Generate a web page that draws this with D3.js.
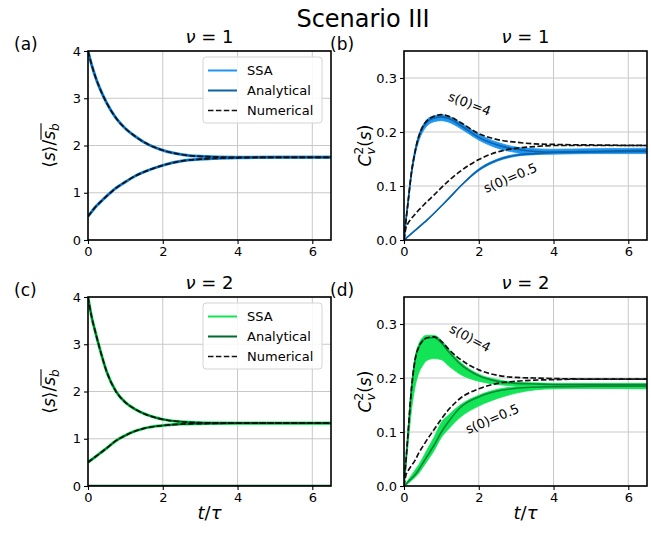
<!DOCTYPE html>
<html>
<head>
<meta charset="utf-8">
<script src="https://cdn.jsdelivr.net/npm/d3@7"></script>
<style>
  body { margin: 0; background: #fff; }
  svg { font-family: "DejaVu Sans", sans-serif; }
</style>
</head>
<body>
<svg id="fig" width="651" height="533"></svg>
<script>
// time grids
const tMean = [0, 0.1, 0.2, 0.3, 0.5, 0.75, 1, 1.25, 1.5, 2, 2.5, 3, 4, 5, 6.5];
const tCv = [0, 0.05, 0.1, 0.2, 0.3, 0.4, 0.5, 0.6, 0.8, 1.0, 1.2, 1.5, 2.0, 2.5, 3.0, 3.5, 4.0, 5.0, 6.5];

// mean size, nu = 1
const meanHi1 = [4.0, 3.7, 3.45, 3.24, 2.9, 2.58, 2.36, 2.2, 2.07, 1.9, 1.81, 1.77, 1.75, 1.75, 1.75];
const meanLo1 = [0.5, 0.6, 0.7, 0.78, 0.93, 1.1, 1.23, 1.35, 1.44, 1.58, 1.67, 1.71, 1.74, 1.75, 1.75];
// mean size, nu = 2
const meanHi2 = [4.0, 3.57, 3.25, 2.95, 2.42, 2.0, 1.77, 1.63, 1.53, 1.41, 1.36, 1.34, 1.33, 1.33, 1.33];
const meanLo2 = [0.5, 0.56, 0.62, 0.68, 0.8, 0.96, 1.07, 1.16, 1.22, 1.28, 1.31, 1.32, 1.33, 1.33, 1.33];

// CV^2, nu = 1
const num4_1   = [0, 0.035, 0.065, 0.125, 0.165, 0.193, 0.21, 0.22, 0.229, 0.232, 0.229, 0.218, 0.197, 0.186, 0.181, 0.178, 0.177, 0.176, 0.175];
const ana4_1   = [0, 0.035, 0.065, 0.125, 0.165, 0.192, 0.208, 0.218, 0.226, 0.228, 0.225, 0.213, 0.19, 0.176, 0.168, 0.164, 0.163, 0.164, 0.166];
const ssa4_1lo = [0, 0.03, 0.06, 0.118, 0.158, 0.184, 0.2, 0.21, 0.219, 0.221, 0.218, 0.207, 0.185, 0.17, 0.162, 0.159, 0.159, 0.16, 0.16];
const ssa4_1hi = [0, 0.038, 0.07, 0.13, 0.17, 0.196, 0.212, 0.222, 0.23, 0.232, 0.229, 0.218, 0.196, 0.181, 0.172, 0.169, 0.168, 0.169, 0.17];
const num05_1   = [0, 0.022, 0.03, 0.04, 0.048, 0.056, 0.063, 0.07, 0.083, 0.097, 0.11, 0.127, 0.149, 0.163, 0.17, 0.173, 0.175, 0.175, 0.175];
const ana05_1   = [0, 0.003, 0.006, 0.012, 0.018, 0.024, 0.03, 0.036, 0.049, 0.063, 0.077, 0.099, 0.13, 0.148, 0.157, 0.16, 0.162, 0.163, 0.164];
const ssa05_1lo = [0, 0.002, 0.005, 0.011, 0.017, 0.023, 0.029, 0.035, 0.048, 0.062, 0.076, 0.098, 0.128, 0.146, 0.155, 0.158, 0.16, 0.161, 0.162];
const ssa05_1hi = [0, 0.004, 0.007, 0.013, 0.019, 0.025, 0.031, 0.037, 0.05, 0.064, 0.078, 0.1, 0.132, 0.15, 0.159, 0.162, 0.164, 0.165, 0.166];

// CV^2, nu = 2
const num4_2   = [0, 0.045, 0.09, 0.18, 0.235, 0.258, 0.269, 0.274, 0.276, 0.268, 0.253, 0.235, 0.215, 0.205, 0.201, 0.2, 0.199, 0.198, 0.198];
const ana4_2   = [0, 0.045, 0.09, 0.18, 0.235, 0.258, 0.269, 0.274, 0.275, 0.265, 0.248, 0.226, 0.204, 0.194, 0.19, 0.189, 0.188, 0.188, 0.188];
const ssa4_2lo = [0, 0.035, 0.07, 0.14, 0.185, 0.21, 0.223, 0.232, 0.236, 0.234, 0.222, 0.207, 0.194, 0.188, 0.185, 0.183, 0.182, 0.181, 0.18];
const ssa4_2hi = [0, 0.05, 0.095, 0.186, 0.24, 0.264, 0.275, 0.279, 0.279, 0.27, 0.253, 0.23, 0.207, 0.197, 0.192, 0.191, 0.19, 0.19, 0.19];
const num05_2   = [0, 0.02, 0.027, 0.038, 0.048, 0.062, 0.073, 0.084, 0.104, 0.124, 0.142, 0.162, 0.18, 0.19, 0.194, 0.196, 0.197, 0.198, 0.198];
const ana05_2   = [0, 0.003, 0.007, 0.014, 0.021, 0.031, 0.042, 0.053, 0.075, 0.1, 0.12, 0.145, 0.165, 0.176, 0.181, 0.183, 0.184, 0.185, 0.185];
const ssa05_2lo = [0, 0.001, 0.004, 0.01, 0.016, 0.024, 0.034, 0.044, 0.065, 0.09, 0.106, 0.127, 0.148, 0.162, 0.172, 0.178, 0.18, 0.181, 0.181];
const ssa05_2hi = [0, 0.005, 0.01, 0.02, 0.03, 0.04, 0.052, 0.065, 0.09, 0.118, 0.132, 0.15, 0.168, 0.179, 0.184, 0.186, 0.187, 0.187, 0.187];

// tick values
const xTicks = [0, 2, 4, 6];
const meanTicks = [0, 1, 2, 3, 4];
const cvTicks = [0, 0.1, 0.2, 0.3];
const legendLabels = ["SSA", "Analytical", "Numerical"];

const blue = { ssa: "#1f95f2", ana: "#0e62a8" };
const green = { ssa: "#12e456", ana: "#00692c" };

const svg = d3.select("#fig");
const zip = (ts, vs) => ts.map((t, i) => [t, vs[i]]);

svg.append("text").attr("x", 363).attr("y", 27).attr("text-anchor", "middle")
  .attr("font-size", 24).text("Scenario III");

function panel(o) {
  const x = d3.scaleLinear().domain([0, 6.5]).range([o.left, o.left + 243]);
  const y = d3.scaleLinear().domain(o.ydom).range([o.top + 189, o.top]);
  const g = svg.append("g");
  const id = "clip" + o.tag.replace(/\W/g, "");
  svg.append("clipPath").attr("id", id).append("rect")
    .attr("x", x(0)).attr("y", y(o.ydom[1])).attr("width", x(6.5) - x(0)).attr("height", y(o.ydom[0]) - y(o.ydom[1]));

  // grid
  g.selectAll(".gx").data(xTicks).join("line")
    .attr("x1", d => x(d)).attr("x2", d => x(d)).attr("y1", y.range()[0]).attr("y2", y.range()[1])
    .attr("stroke", "#c8c8c8").attr("stroke-width", 1);
  g.selectAll(".gy").data(o.yticks).join("line")
    .attr("y1", d => y(d)).attr("y2", d => y(d)).attr("x1", x.range()[0]).attr("x2", x.range()[1])
    .attr("stroke", "#c8c8c8").attr("stroke-width", 1);

  const plot = g.append("g").attr("clip-path", `url(#${id})`);
  const line = d3.line().x(d => x(d[0])).y(d => y(d[1])).curve(d3.curveMonotoneX);
  const area = d3.area().x(d => x(d[0])).y0(d => y(d[1])).y1(d => y(d[2])).curve(d3.curveMonotoneX);

  (o.bands || []).forEach(b => {
    plot.append("path").datum(o.t.map((t, i) => [t, b[0][i], b[1][i]]))
      .attr("d", area).attr("fill", o.col.ssa).attr("stroke", o.col.ssa).attr("stroke-width", 0.8);
  });
  (o.ssa || []).forEach(s => {
    plot.append("path").attr("d", line(zip(o.t, s))).attr("fill", "none")
      .attr("stroke", o.col.ssa).attr("stroke-width", 3);
  });
  (o.ana || []).forEach(s => {
    plot.append("path").attr("d", line(zip(o.t, s))).attr("fill", "none")
      .attr("stroke", o.col.ana).attr("stroke-width", 1.6).attr("opacity", o.anaOpacity || 1);
  });
  (o.num || []).forEach(s => {
    plot.append("path").attr("d", line(zip(o.t, s))).attr("fill", "none")
      .attr("stroke", "#111").attr("stroke-width", 1.7).attr("stroke-dasharray", "5.5,2.4");
  });
  if (o.zeroLine) {
    plot.append("line").attr("x1", x(0)).attr("x2", x(6.5)).attr("y1", y(0)).attr("y2", y(0))
      .attr("stroke", o.col.ana).attr("stroke-width", 2.5);
  }

  // axes
  const ax = g.append("g").attr("transform", `translate(0,${y.range()[0]})`)
    .call(d3.axisBottom(x).tickValues(xTicks).tickSize(4).tickPadding(3).tickFormat(d3.format("d")));
  const ay = g.append("g").attr("transform", `translate(${x.range()[0]},0)`)
    .call(d3.axisLeft(y).tickValues(o.yticks).tickSize(4).tickPadding(3).tickFormat(d3.format(o.yfmt)));
  [ax, ay].forEach(a => {
    a.select(".domain").remove();
    a.selectAll("line").attr("stroke", "#000").attr("stroke-width", 1.1);
    a.selectAll("text").attr("font-size", 13).attr("fill", "#000").attr("font-family", "DejaVu Sans");
  });
  g.append("rect").attr("x", x.range()[0]).attr("y", y.range()[1])
    .attr("width", x.range()[1] - x.range()[0]).attr("height", y.range()[0] - y.range()[1])
    .attr("fill", "none").attr("stroke", "#000").attr("stroke-width", 1.6);

  // titles
  const tt = svg.append("text").attr("x", (x.range()[0] + x.range()[1]) / 2).attr("y", o.top - 8)
    .attr("text-anchor", "middle").attr("font-size", 18);
  tt.append("tspan").attr("font-style", "italic").text("ν");
  tt.append("tspan").text(" = " + o.nu);
  svg.append("text").attr("x", o.left - 74).attr("y", o.top - 1).attr("font-size", 17).text(o.tag);

  if (o.xlabel) {
    const xl = svg.append("text").attr("x", (x.range()[0] + x.range()[1]) / 2).attr("y", o.top + 222)
      .attr("text-anchor", "middle").attr("font-size", 18);
    xl.append("tspan").attr("font-style", "italic").text("t");
    xl.append("tspan").text("/");
    xl.append("tspan").attr("font-style", "italic").text("τ");
  }

  const cy = o.top + 94.5;
  const yl = svg.append("g").attr("transform", `translate(${o.left - 33},${cy}) rotate(-90)`);
  if (o.kind === "mean") {
    const t = yl.append("text").attr("text-anchor", "middle").attr("font-size", 17);
    t.append("tspan").text("⟨");
    t.append("tspan").attr("font-style", "italic").text("s");
    t.append("tspan").text("⟩/");
    t.append("tspan").attr("font-style", "italic").text("s");
    t.append("tspan").attr("font-style", "italic").attr("font-size", 12).attr("dy", 4).text("b");
    const node = t.node();
    const e1 = node.getExtentOfChar(4), e2 = node.getExtentOfChar(5);
    yl.append("line").attr("x1", e1.x).attr("x2", e2.x + e2.width)
      .attr("y1", e1.y + 2).attr("y2", e1.y + 2).attr("stroke", "#000").attr("stroke-width", 1.1);
  } else {
    const t = yl.append("text").attr("text-anchor", "middle").attr("font-size", 17);
    t.append("tspan").attr("font-style", "italic").text("C");
    t.append("tspan").attr("font-style", "italic").attr("font-size", 12).attr("dy", 4).text("v");
    t.append("tspan").attr("font-size", 12).attr("dx", -7).attr("dy", -12).text("2");
    t.append("tspan").attr("dy", 8).text("(");
    t.append("tspan").attr("font-style", "italic").text("s");
    t.append("tspan").text(")");
  }

  if (o.labels) {
    o.labels.forEach(l => {
      svg.append("text").attr("transform", `translate(${l[0]},${l[1]}) rotate(${l[2]})`)
        .attr("text-anchor", "middle").attr("font-size", 13).text(l[3]);
    });
  }

  if (o.legend) {
    const lx = x.range()[1] - 128, ly = o.top + 6;
    const lg = svg.append("g").attr("transform", `translate(${lx},${ly})`);
    lg.append("rect").attr("width", 119).attr("height", 66).attr("rx", 3)
      .attr("fill", "#fff").attr("fill-opacity", 0.85).attr("stroke", "#d4d4d4");
    const styles = [
      { c: o.col.ssa, w: 2, dash: null },
      { c: o.col.ana, w: 2, dash: null },
      { c: "#111", w: 1.7, dash: "5.5,2.4" }
    ];
    legendLabels.forEach((lab, i) => {
      const yy = 13.5 + i * 20;
      lg.append("line").attr("x1", 5).attr("x2", 34).attr("y1", yy).attr("y2", yy)
        .attr("stroke", styles[i].c).attr("stroke-width", styles[i].w).attr("stroke-dasharray", styles[i].dash);
      lg.append("text").attr("x", 44).attr("y", yy + 4.5).attr("font-size", 13).text(lab);
    });
  }
}

panel({ tag: "(a)", left: 88, top: 51, nu: 1, kind: "mean", ydom: [0, 4], yticks: meanTicks, yfmt: "d",
  col: blue, t: tMean, ssa: [meanHi1, meanLo1], ana: [meanHi1, meanLo1], num: [meanHi1, meanLo1], legend: true });
panel({ tag: "(b)", left: 404, top: 51, nu: 1, kind: "cv", ydom: [0, 0.35], yticks: cvTicks, yfmt: ".1f",
  col: blue, t: tCv, bands: [[ssa4_1lo, ssa4_1hi], [ssa05_1lo, ssa05_1hi]], ana: [ana4_1, ana05_1], num: [num4_1, num05_1],
  labels: [[468, 108, 21, "s(0)=4"], [512, 182, -23, "s(0)=0.5"]] });
panel({ tag: "(c)", left: 88, top: 297, nu: 2, kind: "mean", ydom: [0, 4], yticks: meanTicks, yfmt: "d",
  col: green, t: tMean, ssa: [meanHi2, meanLo2], ana: [meanHi2, meanLo2], num: [meanHi2, meanLo2], legend: true,
  xlabel: true, zeroLine: true });
panel({ tag: "(d)", left: 404, top: 297, nu: 2, kind: "cv", ydom: [0, 0.35], yticks: cvTicks, yfmt: ".1f",
  col: green, t: tCv, bands: [[ssa4_2lo, ssa4_2hi], [ssa05_2lo, ssa05_2hi]], ana: [ana4_2, ana05_2], num: [num4_2, num05_2],
  anaOpacity: 0.75, xlabel: true,
  labels: [[468, 342, 28, "s(0)=4"], [494, 423, -23, "s(0)=0.5"]] });
</script>
</body>
</html>
